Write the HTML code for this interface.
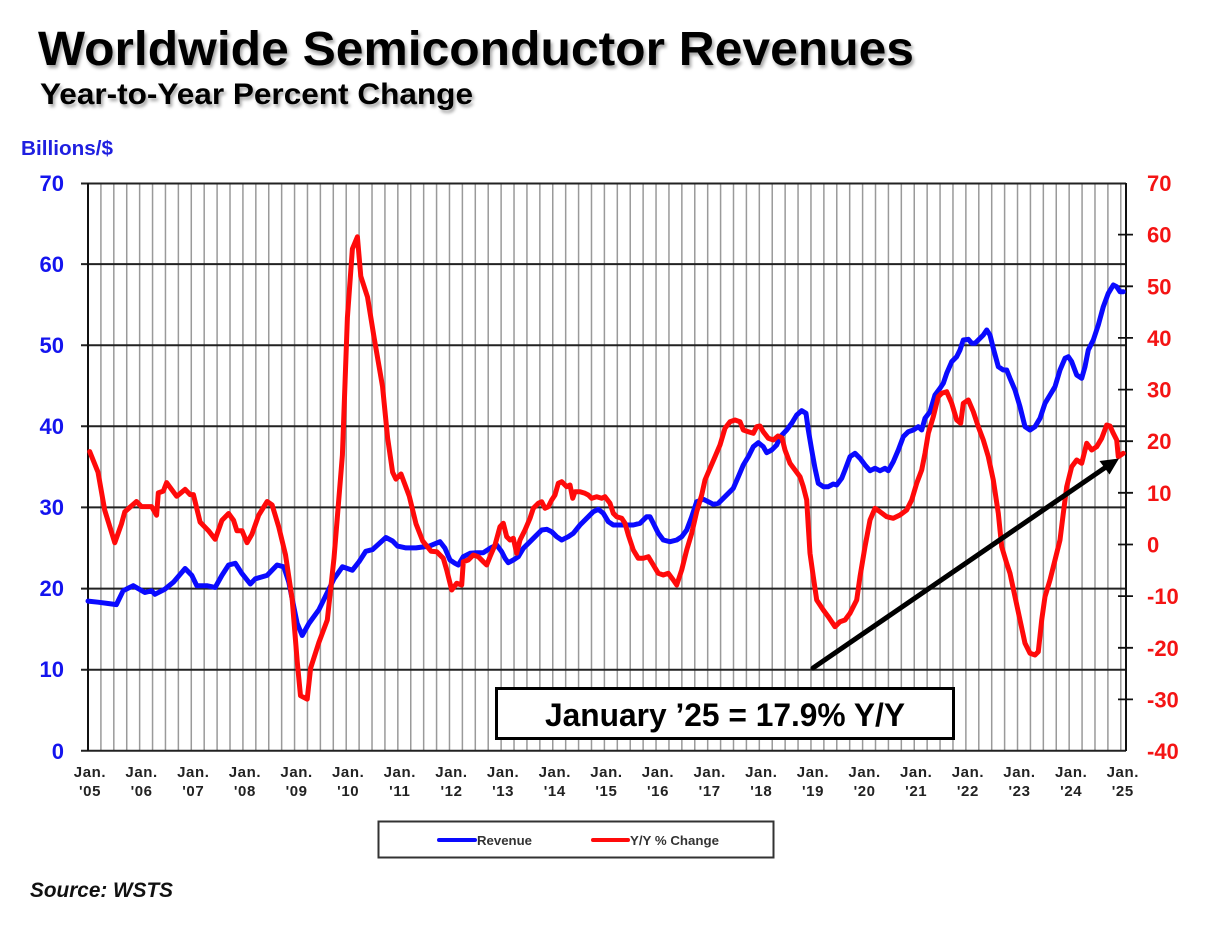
<!DOCTYPE html>
<html><head><meta charset="utf-8"><style>
html,body{margin:0;padding:0;background:#fff;}
svg{display:block;}
</style></head><body>
<svg width="1225" height="945" viewBox="0 0 1225 945" xmlns="http://www.w3.org/2000/svg" font-family="'Liberation Sans', Arial, sans-serif">
<defs>
<filter id="sh" x="-5%" y="-20%" width="110%" height="150%">
<feDropShadow dx="2" dy="3" stdDeviation="1.6" flood-color="#000" flood-opacity="0.35"/>
</filter>
</defs>
<rect width="1225" height="945" fill="#fff"/>
<text x="38" y="65" font-size="48.6" font-weight="bold" fill="#000" textLength="876" lengthAdjust="spacingAndGlyphs" filter="url(#sh)">Worldwide Semiconductor Revenues</text>
<text x="40" y="104" font-size="29.5" font-weight="bold" fill="#000" textLength="433" lengthAdjust="spacingAndGlyphs" filter="url(#sh)">Year-to-Year Percent Change</text>
<text x="21" y="155" font-size="20" font-weight="bold" fill="#1f1fe0" textLength="92" lengthAdjust="spacingAndGlyphs">Billions/$</text>

<path fill="none" stroke="#9a9a9a" stroke-width="1.5" d="M100.91 183V751M113.82 183V751M126.73 183V751M139.64 183V751M152.55 183V751M165.46 183V751M178.37 183V751M191.28 183V751M204.19 183V751M217.1 183V751M230.01 183V751M242.92 183V751M255.83 183V751M268.74 183V751M281.65 183V751M294.56 183V751M307.47 183V751M320.38 183V751M333.29 183V751M346.2 183V751M359.11 183V751M372.02 183V751M384.93 183V751M397.84 183V751M410.75 183V751M423.66 183V751M436.57 183V751M449.48 183V751M462.39 183V751M475.3 183V751M488.21 183V751M501.12 183V751M514.03 183V751M526.94 183V751M539.85 183V751M552.76 183V751M565.67 183V751M578.58 183V751M591.49 183V751M604.4 183V751M617.31 183V751M630.22 183V751M643.13 183V751M656.04 183V751M668.95 183V751M681.86 183V751M694.77 183V751M707.68 183V751M720.59 183V751M733.5 183V751M746.41 183V751M759.32 183V751M772.23 183V751M785.14 183V751M798.05 183V751M810.96 183V751M823.87 183V751M836.78 183V751M849.69 183V751M862.6 183V751M875.51 183V751M888.42 183V751M901.33 183V751M914.24 183V751M927.15 183V751M940.06 183V751M952.97 183V751M965.88 183V751M978.79 183V751M991.7 183V751M1004.61 183V751M1017.52 183V751M1030.43 183V751M1043.34 183V751M1056.25 183V751M1069.16 183V751M1082.07 183V751M1094.98 183V751M1107.89 183V751M1120.8 183V751"/>

<path fill="none" stroke="#222" stroke-width="2" d="M81 183.5H1126M81 264.1H1126M81 345.2H1126M81 426.3H1126M81 507.4H1126M81 588.6H1126M81 669.7H1126M81 750.8H1126"/>
<path fill="none" stroke="#111" stroke-width="2" d="M88 183V751M1126 183V751"/>
<path fill="none" stroke="#111" stroke-width="1.8" d="M1118 234.6H1133M1118 286.3H1133M1118 337.9H1133M1118 389.6H1133M1118 441.2H1133M1118 492.8H1133M1118 544.5H1133M1118 596.1H1133M1118 647.8H1133M1118 699.4H1133"/>

<g font-size="22" font-weight="bold" fill="#1414ee" text-anchor="end">
<text x="64" y="191">70</text>
<text x="64" y="272">60</text>
<text x="64" y="353">50</text>
<text x="64" y="434">40</text>
<text x="64" y="515">30</text>
<text x="64" y="596">20</text>
<text x="64" y="677">10</text>
<text x="64" y="759">0</text>
</g>
<g font-size="22" font-weight="bold" fill="#f41414">
<text x="1147" y="191">70</text>
<text x="1147" y="242.6">60</text>
<text x="1147" y="294.3">50</text>
<text x="1147" y="345.9">40</text>
<text x="1147" y="397.6">30</text>
<text x="1147" y="449.2">20</text>
<text x="1147" y="500.8">10</text>
<text x="1147" y="552.5">0</text>
<text x="1147" y="604.1">-10</text>
<text x="1147" y="655.8">-20</text>
<text x="1147" y="707.4">-30</text>
<text x="1147" y="759">-40</text>
</g>

<g font-size="15" font-weight="bold" fill="#222" text-anchor="middle" letter-spacing="0.6">
<text x="90" y="777">Jan.</text><text x="90" y="796">'05</text>
<text x="141.6" y="777">Jan.</text><text x="141.6" y="796">'06</text>
<text x="193.3" y="777">Jan.</text><text x="193.3" y="796">'07</text>
<text x="244.9" y="777">Jan.</text><text x="244.9" y="796">'08</text>
<text x="296.6" y="777">Jan.</text><text x="296.6" y="796">'09</text>
<text x="348.2" y="777">Jan.</text><text x="348.2" y="796">'10</text>
<text x="399.8" y="777">Jan.</text><text x="399.8" y="796">'11</text>
<text x="451.5" y="777">Jan.</text><text x="451.5" y="796">'12</text>
<text x="503.1" y="777">Jan.</text><text x="503.1" y="796">'13</text>
<text x="554.8" y="777">Jan.</text><text x="554.8" y="796">'14</text>
<text x="606.4" y="777">Jan.</text><text x="606.4" y="796">'15</text>
<text x="658" y="777">Jan.</text><text x="658" y="796">'16</text>
<text x="709.7" y="777">Jan.</text><text x="709.7" y="796">'17</text>
<text x="761.3" y="777">Jan.</text><text x="761.3" y="796">'18</text>
<text x="813" y="777">Jan.</text><text x="813" y="796">'19</text>
<text x="864.6" y="777">Jan.</text><text x="864.6" y="796">'20</text>
<text x="916.2" y="777">Jan.</text><text x="916.2" y="796">'21</text>
<text x="967.9" y="777">Jan.</text><text x="967.9" y="796">'22</text>
<text x="1019.5" y="777">Jan.</text><text x="1019.5" y="796">'23</text>
<text x="1071.2" y="777">Jan.</text><text x="1071.2" y="796">'24</text>
<text x="1122.8" y="777">Jan.</text><text x="1122.8" y="796">'25</text>
</g>

<!-- Revenue (blue) -->
<polyline fill="none" stroke="#0a0aff" stroke-width="5" stroke-linejoin="round" stroke-linecap="round" points="88,601.1 98,602.2 108.1,603.5 116.4,604.6 123.1,590.8 133.2,585.7 144.9,592.5 151.6,590.8 154.9,594.3 165,589.1 173.4,582.2 185.1,568.5 191.8,575.4 196.8,585.7 206.8,585.7 215.2,587.4 221.9,575.4 228.6,565 235.3,563.3 242,573.6 250.3,584 255.3,578.8 267.1,575.4 277.1,565 283.8,566.8 288.8,582.2 297.2,623.5 302.2,635.5 308.9,623.5 318.9,609.7 327.3,592.5 334,578.8 342.4,566.8 352.4,570.2 359.1,561.6 365.8,551.3 372.5,549.6 385.9,537.5 392.6,541 397.6,546.1 406,547.9 416,547.9 429.4,546.1 440,541.7 445,548.3 450,560 455,563.3 458.3,565 463.3,556.7 470,553.3 476.7,552.7 483.3,552.7 490,548.3 496.7,545 501.7,551.7 505,558.3 508.3,562.7 513.3,560 518.3,556.7 523.3,548.3 530,541.7 535,536.7 541.7,530 546.7,529.3 551.7,531.7 556.7,536.7 561.7,540 568.3,536.7 573.3,533.3 580,525 586.7,518.3 593.3,511.7 598.3,509.3 603.3,513.3 608.3,521.7 613.3,525 620,525 626.7,525 633.3,525 640,523.3 646.7,516.7 650,516.7 653.3,523.3 658.3,533.3 663.3,540 670,541.7 676.7,540 681.7,536.7 686.7,530 691.7,516.7 696.7,501.7 703.3,499.3 708.3,501.7 713.3,504.3 718.3,503.3 723.3,498.3 728.3,493.3 733.3,488.3 738.3,476.7 743.3,465 748.3,456.7 753.3,446.7 758.3,442.7 763.3,446.7 766.7,452.7 771.7,450 776.7,445 780,437 786.7,430 791.7,423.3 796.7,415 801.7,410.7 806,413.3 808.3,430 811.7,450 815,468.3 818.3,483.3 823.3,486.7 828.3,486.7 833.3,484 836.7,485 841.7,478.3 845,470 850,456.7 855,453.3 860,458.3 865,465 870,470.7 875,468.3 880,470.7 885,468.3 888.3,470.7 893.3,461.7 898.3,450 903.3,436.7 908.3,431.7 913.3,430 918.3,426.7 921.7,430 925,418.3 930,411.7 935,395 940,388.3 943.3,383.3 946.7,373.3 951.7,361.7 956.7,356.7 960,350 963.3,340 968.3,339.3 971.7,343.3 975,343.3 978.3,340 983.3,335 986.7,330 990,335 993.3,348.3 998.3,366.7 1003.3,370 1006.7,370 1010,378.3 1015,390 1020,406.7 1025,426.7 1030,430 1035,426.7 1040,418.3 1045,403.3 1050,395 1055,386.7 1060,370 1065,358.3 1068.3,356.7 1071.7,361.7 1076.7,375 1081.7,378.3 1085,366.7 1088.3,350 1093.3,340 1098.3,325 1103.3,306.7 1108.3,293.3 1113.3,285 1116.7,286.7 1120,291.7 1123.3,291.7"/>

<!-- Y/Y % change (red) -->
<polyline fill="none" stroke="#ff0a0a" stroke-width="5" stroke-linejoin="round" stroke-linecap="round" points="89.7,451.6 98,472.2 104.7,510.1 114.8,542.7 121.5,523.8 124.8,511.8 136.5,501.5 141.5,506.6 151.6,506.6 156.6,515.2 158.3,492.9 163.3,491.1 166.6,482.6 176.7,496.3 185.1,489.4 190.1,494.6 193.4,494.6 200.1,522.1 208.5,530.7 215.2,539.3 221.9,520.4 228.6,513.5 233.6,520.4 236.9,530.7 242,530.7 247,542.7 252,534.1 258.7,515.2 267.1,501.5 272.1,504.9 278.8,527.2 285.5,554.7 292.2,599.4 297.2,661.3 300.5,695.7 307.2,699.1 310.6,668.2 318.9,642.4 327.3,620 334,558.2 342.4,455.1 347.4,317.6 352.4,248.8 357.4,236.8 360.8,276.3 367.5,297 374.2,338.2 382.5,386.3 387.6,437.9 392.6,472.2 395.9,479.1 401,474 409.3,496.3 416,523.8 422.7,541 431.1,551.3 436.7,551.7 443.3,558.3 446.7,570 451.7,590 456.7,583.3 461.7,585 463.3,561.7 468.3,560 473.3,555 478.3,556.7 483.3,561.7 486.7,565 490,556.7 495,545 500,526.7 503.3,523.3 506.7,536.7 510,540 513.3,538.3 516.7,553.3 520,540 525,530 530,518.3 533.3,508.3 538.3,503.3 541.7,501.7 545,508.3 548.3,506.7 551.7,500 555,495 558.3,483.3 561.7,481.7 566.7,486.7 570,485 572.7,498.3 575,491.7 580,491.7 585,493.3 588.3,495 591.7,498.3 596.7,496.7 601.7,498.3 605,496.7 610,503.3 613.3,513.3 616.7,516.7 621.7,518.3 625,523.3 628.3,535 633.3,550 638.3,558.3 643.3,558.3 648.3,556.7 653.3,565 658.3,573.3 663.3,575 668.3,573.3 673.3,580 676.7,585 681.7,570 686.7,550 691.7,533.3 696.7,511.7 701.7,495 705,480 710,468.3 715,456.7 720,445 725,428.3 730,421.7 735,420 740,421.7 743.3,430 748.3,431.7 753.3,433.3 756.7,426.7 760,426 763.3,431.7 768.3,438.3 773.3,440 778,436 782,438 785,450 790,463.3 795,470 800,476.7 803.3,486.7 806.7,500 808.3,526.7 810,553.3 813.3,576.7 816.7,600 823.3,610 828.3,616.7 835,626.7 840,621.7 845,620 850,613.3 856.7,600 860,576.7 865,546.7 870,520 875,508.3 880,511.7 886.7,516.7 893.3,518.3 900,515 906.7,510 911.7,500 916.7,483.3 921.7,470 925,453.3 928.3,433.3 933.3,416.7 938.3,396.7 941.7,393.3 946.7,391.7 951.7,403.3 956.7,420 960.7,423.3 963.3,403.3 968.3,400 973.3,411.7 978.3,426.7 983.3,440 988.3,456.7 993.3,480 998.3,513.3 1001.7,546.7 1006.7,563.3 1010,573.3 1015,596.7 1020,620 1025,643.3 1030,653.3 1035,655 1038.3,651.7 1041.7,620 1045,596.7 1050,580 1055,560 1060,540 1063.3,513.3 1066.7,486.7 1071.7,466.7 1076.7,460 1081.7,463.3 1086.7,443.3 1091.7,450 1096.7,446.7 1101.7,438.3 1106.7,425 1110,426 1113.3,433.3 1116.7,440 1118.3,456.7 1123.3,453.3"/>

<!-- Arrow -->
<line x1="813" y1="668" x2="1106" y2="467" stroke="#000" stroke-width="5" stroke-linecap="round"/>
<polygon points="1119,458.5 1109.5,474.5 1099.5,461" fill="#000"/>

<!-- Annotation box -->
<rect x="496.5" y="688.5" width="457" height="50" fill="#fff" stroke="#000" stroke-width="3"/>
<text x="725" y="726" font-size="32" font-weight="bold" fill="#000" text-anchor="middle" textLength="360" lengthAdjust="spacingAndGlyphs">January ’25 = 17.9% Y/Y</text>

<!-- Legend -->
<rect x="378.5" y="821.5" width="395" height="36" fill="#fff" stroke="#333" stroke-width="2"/>
<line x1="439" y1="840" x2="475" y2="840" stroke="#0a0aff" stroke-width="4" stroke-linecap="round"/>
<text x="477" y="845" font-size="12.5" font-weight="bold" fill="#333" textLength="55" lengthAdjust="spacingAndGlyphs">Revenue</text>
<line x1="593" y1="840" x2="628" y2="840" stroke="#ff0a0a" stroke-width="4" stroke-linecap="round"/>
<text x="630" y="845" font-size="12.5" font-weight="bold" fill="#333" textLength="89" lengthAdjust="spacingAndGlyphs">Y/Y % Change</text>

<text x="30" y="897" font-size="21" font-weight="bold" font-style="italic" fill="#111" textLength="143" lengthAdjust="spacingAndGlyphs">Source: WSTS</text>
</svg>
</body></html>
